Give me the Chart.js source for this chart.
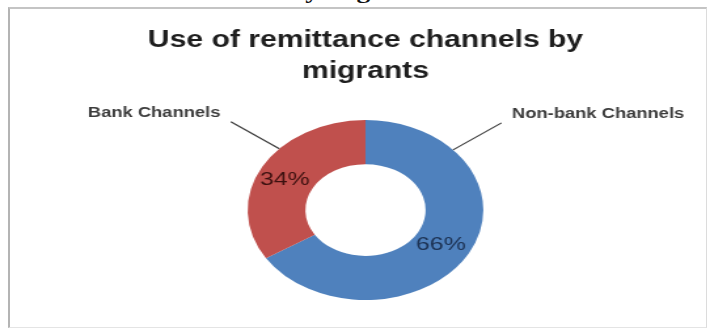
<!DOCTYPE html>
<html>
<head>
<meta charset="utf-8">
<script src="https://cdn.jsdelivr.net/npm/chart.js@4.4.1/dist/chart.umd.min.js"></script>
<style>
  html, body { margin: 0; padding: 0; background: #fff; overflow: hidden; }
  body { width: 710px; height: 331px; position: relative; }
  #caption {
    position: absolute; left: 290px; top: -20px;
    font: bold 22px "Liberation Serif", serif; line-height: 22px;
    color: #111; white-space: nowrap;
    transform: scaleX(1.25); transform-origin: left top;
  }
  #frame {
    position: absolute; left: 8px; top: 7px; width: 696px; height: 318px;
    border-left: 2px solid #b4b4b4; border-top: 2px solid #c4c4c4;
    border-right: 1px solid #dcdcdc; border-bottom: 1px solid #e4e4e4;
  }
  #chart { position: absolute; left: 0; top: 0; }
</style>
</head>
<body>
<div id="caption">by migrants</div>
<div id="frame"></div>
<!-- the picture is stretched sideways, so the canvas is drawn narrow and widened -->
<canvas id="chart" width="542" height="331" style="width:710px;height:331px"></canvas>
<script>
// Data
const titleLines = ['Use of remittance channels by', 'migrants'];
const channels = ['Non-bank Channels', 'Bank Channels'];
const shares = [66, 34];
const sliceColors = ['#4F81BD', '#C0504D'];
const percentColors = ['#1c3152', '#3d1110'];

// leader lines + percentage labels
const calloutPlugin = {
  id: 'callouts',
  afterDatasetsDraw(chart, args, opts) {
    const ctx = chart.ctx;
    const meta = chart.getDatasetMeta(0);
    const values = chart.data.datasets[0].data;
    const total = values.reduce((a, b) => a + b, 0);
    ctx.save();
    meta.data.forEach((arc, i) => {
      // percent inside the ring
      const c = arc.tooltipPosition();
      ctx.font = '19px "Liberation Sans", Arial, sans-serif';
      ctx.fillStyle = percentColors[i];
      ctx.textAlign = 'center';
      ctx.textBaseline = 'middle';
      ctx.fillText(Math.round(values[i] / total * 100) + '%', c.x - 2, c.y + 2);

      // leader line from the outer edge
      const ang = opts.angles[i] * Math.PI / 180;
      const x0 = arc.x + Math.cos(ang) * arc.outerRadius;
      const y0 = arc.y + Math.sin(ang) * arc.outerRadius;
      const side = Math.cos(ang) >= 0 ? 1 : -1;
      const x1 = x0 + side * opts.run;
      const y1 = y0 - opts.rise;
      ctx.strokeStyle = '#3a3a3a';
      ctx.lineWidth = 1.2;
      ctx.beginPath();
      ctx.moveTo(x0, y0);
      ctx.lineTo(x1, y1);
      ctx.stroke();

      ctx.font = 'bold 14px "Liberation Sans", Arial, sans-serif';
      ctx.fillStyle = '#3c3c3c';
      ctx.textAlign = side > 0 ? 'left' : 'right';
      ctx.fillText(chart.data.labels[i], x1 + side * 8, y1 - 9);
    });
    ctx.restore();
  }
};

new Chart(document.getElementById('chart'), {
  type: 'doughnut',
  data: {
    labels: channels,
    datasets: [{
      data: shares,
      backgroundColor: sliceColors,
      borderWidth: 0
    }]
  },
  options: {
    responsive: false,
    animation: false,
    events: [],
    cutout: '51%',
    layout: { padding: { top: 0, bottom: 31, left: 24, right: 8 } },
    plugins: {
      legend: { display: false },
      tooltip: { enabled: false },
      title: {
        display: true,
        text: titleLines,
        color: '#1e1e1e',
        font: { family: '"Liberation Sans", Arial, sans-serif', size: 23, weight: 'bold', lineHeight: 1.35 },
        padding: { top: 25, bottom: 33 }
      },
      callouts: { angles: [-42, -137], run: 37, rise: 27 }
    }
  },
  plugins: [calloutPlugin]
});
</script>
</body>
</html>
